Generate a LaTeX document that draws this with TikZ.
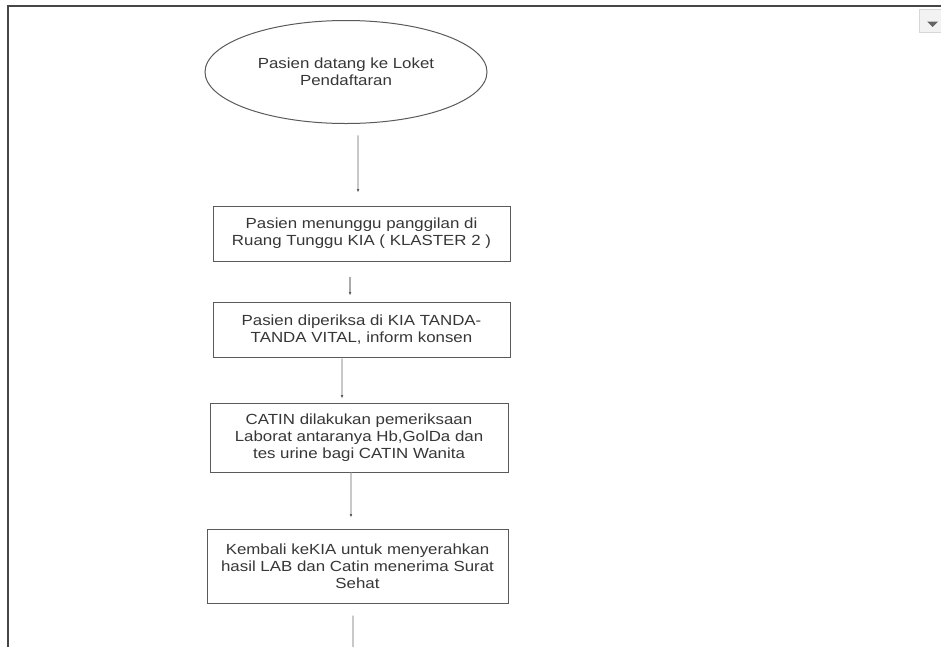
\documentclass[tikz,border=0pt]{standalone}
\usepackage{fontspec}
\setmainfont[FakeStretch=1.15]{Liberation Sans}
\usetikzlibrary{shapes.geometric,arrows.meta}

\tikzset{every picture/.style={line width=0.75pt}}
\tikzset{
	stepbox/.style={draw={rgb,255:red,90;green,90;blue,90}, fill=white, inner sep=0pt,
		align=center, text={rgb,255:red,55;green,55;blue,55}, font=\fontsize{11}{12.8}\selectfont},
	startnode/.style={stepbox, ellipse},
	link/.style={draw={rgb,255:red,170;green,170;blue,170}, line width=0.9pt,
		-{Latex[length=2.5pt,width=2pt,color={rgb,255:red,90;green,90;blue,90}]}}
}

\begin{document}
\begin{tikzpicture}[x=0.75pt,y=0.75pt,yscale=-1,xscale=1]
	\useasboundingbox (0,0) rectangle (941,647);

	%Frame 
	\draw [color={rgb, 255:red, 70; green, 70; blue, 70 }, line width=1.1pt] (8,647) -- (8,6) -- (941,6) ;
	%Shape: Dropdown 
	\draw [color={rgb, 255:red, 215; green, 215; blue, 215 }, fill={rgb, 255:red, 242; green, 242; blue, 242 }] (919,9) rectangle (945,32) ;
	\fill [color={rgb, 255:red, 100; green, 100; blue, 100 }] (927,21.5) -- (938,21.5) -- (932.5,27) -- cycle ;

	%Shape: Ellipse 
	\node (start) [startnode, minimum width=211.5pt, minimum height=77.25pt] at (346,72)
		{Pasien datang ke Loket\\Pendaftaran};
	%Shape: Rectangle 
	\node (wait) [stepbox, minimum width=222.75pt, minimum height=41.25pt] at (361.5,233.5)
		{Pasien menunggu panggilan di\\Ruang Tunggu KIA ( KLASTER 2 )};
	%Shape: Rectangle 
	\node (check) [stepbox, minimum width=222.75pt, minimum height=41.25pt] at (361.5,329.5)
		{Pasien diperiksa di KIA TANDA-\\TANDA VITAL, inform konsen};
	%Shape: Rectangle 
	\node (lab) [stepbox, minimum width=223.5pt, minimum height=51.75pt] at (359,437.5)
		{CATIN dilakukan pemeriksaan\\Laborat antaranya Hb,GolDa dan\\tes urine bagi CATIN Wanita};
	%Shape: Rectangle 
	\node (back) [stepbox, minimum width=225.75pt, minimum height=55.5pt] at (357.5,566)
		{Kembali keKIA untuk menyerahkan\\hasil LAB dan Catin menerima Surat\\Sehat};
	\coordinate (out) at (353,647);

	%Straight Lines 
	\draw [link, shorten <=8.6pt, shorten >=9.75pt] ([xshift=9pt]start.south) -- ([xshift=-2.6pt]wait.north) ;
	\draw [link, shorten <=11.25pt, shorten >=4.5pt] ([xshift=-8.6pt]wait.south) -- ([xshift=-8.6pt]check.north) ;
	\draw [link, shorten <=0.75pt, shorten >=3pt] ([xshift=-14.6pt]check.south) -- ([xshift=-12.75pt]lab.north) ;
	\draw [link, shorten >=8.25pt] ([xshift=-6pt]lab.south) -- ([xshift=-4.9pt]back.north) ;
	\draw [link, -, shorten <=9pt] ([xshift=-3.4pt]back.south) -- (out) ;

\end{tikzpicture}
\end{document}
